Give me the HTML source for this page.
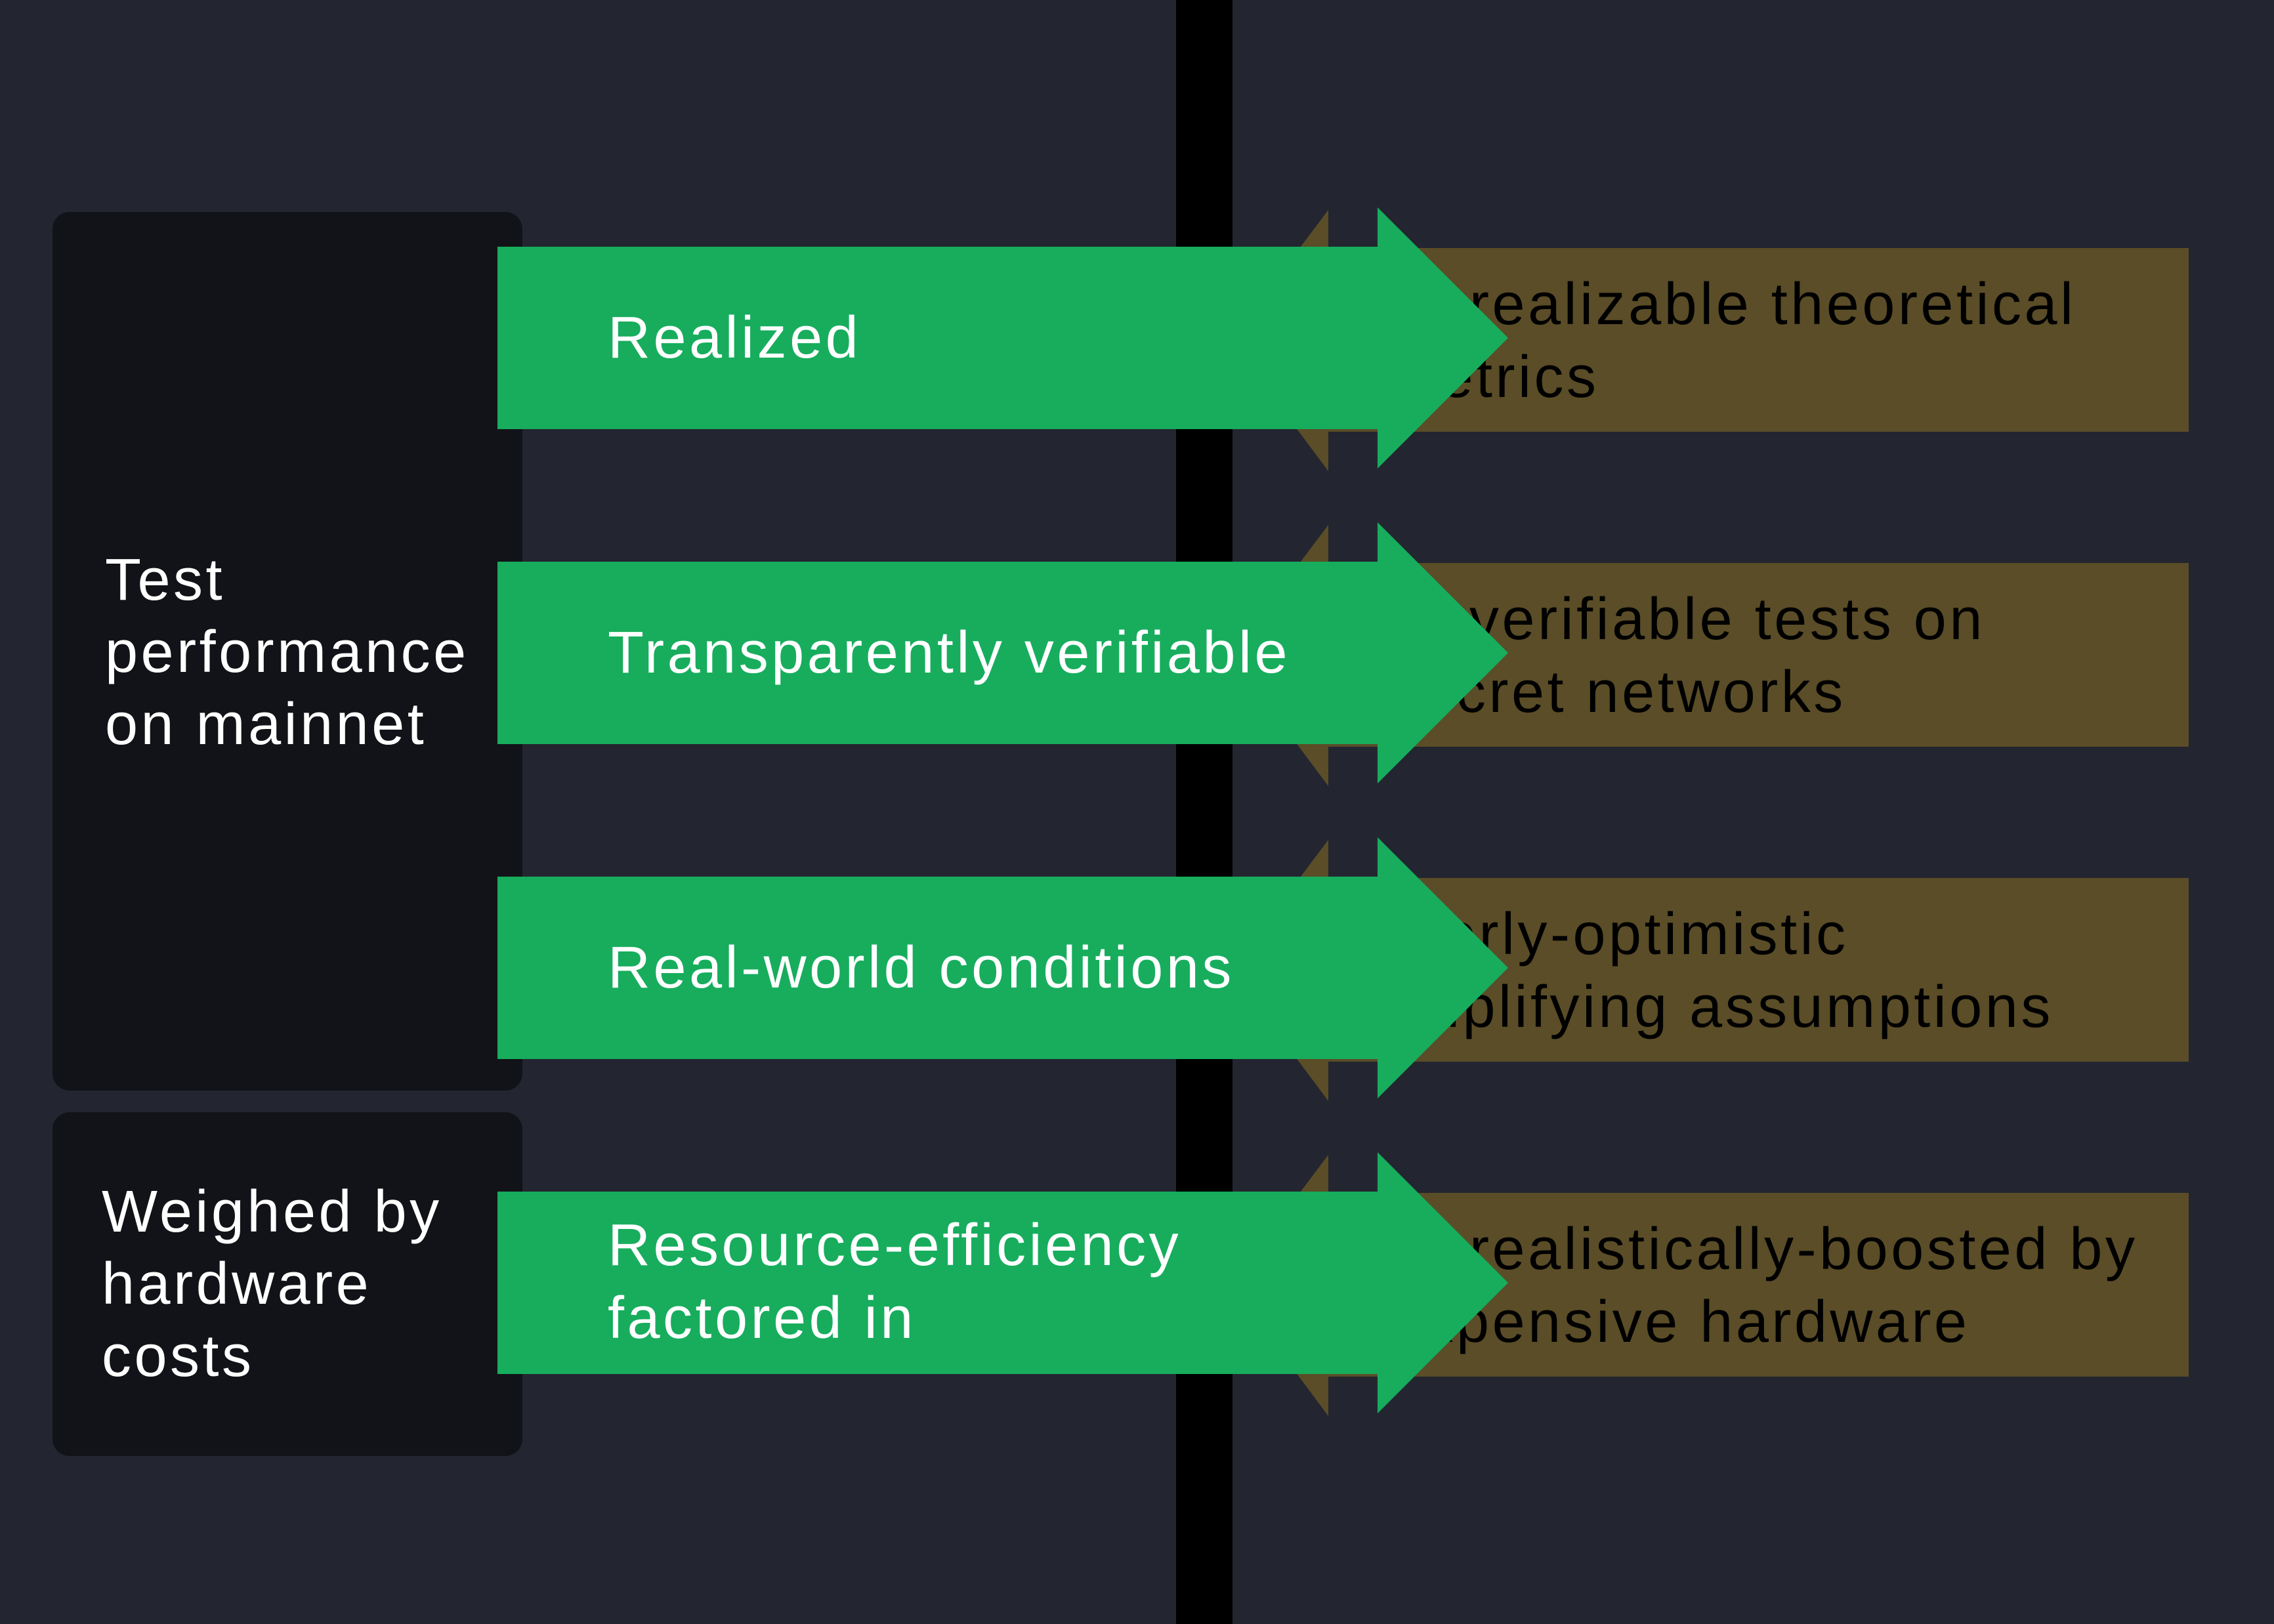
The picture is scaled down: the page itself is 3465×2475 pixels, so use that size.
<!DOCTYPE html>
<html><head><meta charset="utf-8"><style>
html,body{margin:0;padding:0;background:#232630;}
svg{display:block;}
text{font-family:"Liberation Sans",sans-serif;letter-spacing:4.5px;}
</style></head><body>
<svg width="3465" height="2475" viewBox="0 0 3465 2475" xmlns="http://www.w3.org/2000/svg">
<rect width="3465" height="2475" fill="#232630"/>
<rect x="1792" y="0" width="86" height="2475" fill="#000"/>
<rect x="80" y="323" width="716" height="1339" rx="26" fill="#121318"/>
<rect x="80" y="1695" width="716" height="524" rx="26" fill="#121318"/>
<g font-size="90" fill="#fff" dominant-baseline="central">
<text x="160" y="884">Test</text>
<text x="160" y="994">performance</text>
<text x="160" y="1104">on mainnet</text>
<text x="155" y="1847">Weighed by</text>
<text x="155" y="1957">hardware</text>
<text x="155" y="2067">costs</text>
</g>
<g>
<g>
<polygon points="2024,378 3335,378 3335,658 2024,658 2024,718 1875,518 2024,320" fill="#5a4d27"/>
<text x="2115" y="464" font-size="90" fill="#000" dominant-baseline="central">Unrealizable theoretical</text>
<text x="2115" y="575" font-size="90" fill="#000" dominant-baseline="central">metrics</text>
<polygon points="758,376 2099,376 2099,316 2298,515 2099,714 2099,654 758,654" fill="#17ad5d"/>
<text x="926" y="515" font-size="90" fill="#fff" dominant-baseline="central">Realized</text>
</g>
<g transform="translate(0,480)">
<polygon points="2024,378 3335,378 3335,658 2024,658 2024,718 1875,518 2024,320" fill="#5a4d27"/>
<text x="2115" y="464" font-size="90" fill="#000" dominant-baseline="central">Unverifiable tests on</text>
<text x="2115" y="575" font-size="90" fill="#000" dominant-baseline="central">secret networks</text>
<polygon points="758,376 2099,376 2099,316 2298,515 2099,714 2099,654 758,654" fill="#17ad5d"/>
<text x="926" y="515" font-size="90" fill="#fff" dominant-baseline="central">Transparently verifiable</text>
</g>
<g transform="translate(0,960)">
<polygon points="2024,378 3335,378 3335,658 2024,658 2024,718 1875,518 2024,320" fill="#5a4d27"/>
<text x="2075" y="464" font-size="90" fill="#000" dominant-baseline="central">Overly-optimistic</text>
<text x="2075" y="575" font-size="90" fill="#000" dominant-baseline="central">simplifying assumptions</text>
<polygon points="758,376 2099,376 2099,316 2298,515 2099,714 2099,654 758,654" fill="#17ad5d"/>
<text x="926" y="515" font-size="90" fill="#fff" dominant-baseline="central">Real-world conditions</text>
</g>
<g transform="translate(0,1440)">
<polygon points="2024,378 3335,378 3335,658 2024,658 2024,718 1875,518 2024,320" fill="#5a4d27"/>
<text x="2115" y="464" font-size="90" fill="#000" dominant-baseline="central">Unrealistically-boosted by</text>
<text x="2115" y="575" font-size="90" fill="#000" dominant-baseline="central">expensive hardware</text>
<polygon points="758,376 2099,376 2099,316 2298,515 2099,714 2099,654 758,654" fill="#17ad5d"/>
<text x="926" y="458" font-size="90" fill="#fff" dominant-baseline="central">Resource-efficiency</text>
<text x="926" y="569" font-size="90" fill="#fff" dominant-baseline="central">factored in</text>
</g>
</g>
</svg>
</body></html>
